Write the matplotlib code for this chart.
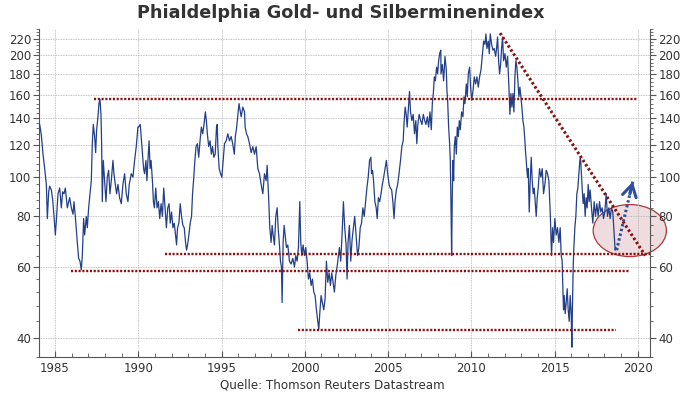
#!/usr/bin/env python

import matplotlib
matplotlib.use('Agg')
import matplotlib.pyplot as plt
from matplotlib.patches import Ellipse
from matplotlib.ticker import FixedLocator, NullFormatter

# index values (decimal year, index level)
years_84_89 = [1984.08, 1984.18, 1984.28, 1984.38, 1984.48, 1984.54, 1984.62, 1984.68, 1984.78, 1984.86,
               1984.94, 1985.02, 1985.08, 1985.18, 1985.28, 1985.38, 1985.46, 1985.54, 1985.62, 1985.74,
               1985.88, 1985.98, 1986.08, 1986.14, 1986.22, 1986.28, 1986.34, 1986.42, 1986.50, 1986.58,
               1986.64, 1986.72, 1986.78, 1986.88, 1986.94, 1987.02, 1987.10, 1987.18, 1987.24, 1987.30,
               1987.38, 1987.44, 1987.50, 1987.58, 1987.64, 1987.70, 1987.76, 1987.80, 1987.84, 1987.90,
               1987.98, 1988.06, 1988.14, 1988.22, 1988.30, 1988.38, 1988.48, 1988.54, 1988.62, 1988.70,
               1988.78, 1988.88, 1988.98, 1989.08, 1989.18, 1989.28, 1989.38, 1989.46, 1989.58, 1989.68,
               1989.78, 1989.88, 1989.98]
values_84_89 = [135, 127, 114, 105, 96, 79, 92, 95, 93, 88,
                80, 72, 78, 91, 94, 84, 92, 91, 94, 84,
                89, 84, 81, 87, 80, 74, 69, 63, 62, 59,
                64, 79, 72, 80, 75, 84, 91, 98, 121, 135,
                126, 115, 131, 141, 152, 156, 143, 121, 87, 110,
                98, 87, 100, 104, 91, 98, 110, 102, 96, 91,
                96, 89, 86, 96, 102, 91, 87, 96, 102, 100,
                110, 119, 133]

years_90_95 = [1990.02, 1990.12, 1990.22, 1990.32, 1990.38, 1990.46, 1990.52, 1990.58, 1990.65, 1990.71,
               1990.77, 1990.85, 1990.91, 1990.97, 1991.05, 1991.13, 1991.21, 1991.29, 1991.37, 1991.45,
               1991.53, 1991.61, 1991.69, 1991.77, 1991.85, 1991.92, 1992.00, 1992.08, 1992.16, 1992.24,
               1992.30, 1992.36, 1992.44, 1992.52, 1992.60, 1992.68, 1992.76, 1992.84, 1992.90, 1992.96,
               1993.04, 1993.12, 1993.20, 1993.26, 1993.32, 1993.40, 1993.47, 1993.55, 1993.63, 1993.71,
               1993.79, 1993.87, 1993.95, 1994.03, 1994.09, 1994.15, 1994.23, 1994.31, 1994.39, 1994.46,
               1994.54, 1994.62, 1994.70, 1994.74, 1994.78, 1994.86, 1994.94, 1995.02, 1995.10, 1995.18,
               1995.28, 1995.38, 1995.48, 1995.58, 1995.67, 1995.77, 1995.83, 1995.91, 1995.97, 1996.05,
               1996.13]
values_90_95 = [133, 135, 119, 105, 102, 110, 98, 110, 123, 105,
                110, 98, 87, 84, 94, 84, 87, 79, 86, 80,
                94, 84, 75, 84, 86, 77, 82, 75, 77, 72,
                68, 75, 77, 86, 80, 76, 75, 69, 66, 68,
                72, 77, 80, 91, 98, 110, 119, 121, 112, 123,
                133, 128, 135, 145, 138, 128, 119, 123, 114, 119,
                112, 114, 133, 135, 119, 105, 102, 100, 110, 121,
                123, 128, 123, 126, 121, 114, 126, 133, 141, 152,
                145]

years_96_01 = [1996.18, 1996.28, 1996.38, 1996.42, 1996.50, 1996.58, 1996.68, 1996.78, 1996.88, 1996.98,
               1997.08, 1997.18, 1997.28, 1997.38, 1997.48, 1997.58, 1997.68, 1997.74, 1997.82, 1997.90,
               1997.98, 1998.04, 1998.10, 1998.18, 1998.26, 1998.34, 1998.40, 1998.48, 1998.54, 1998.60,
               1998.64, 1998.70, 1998.76, 1998.82, 1998.90, 1998.98, 1999.08, 1999.18, 1999.28, 1999.38,
               1999.46, 1999.54, 1999.62, 1999.70, 1999.76, 1999.82, 1999.90, 1999.98, 2000.06, 2000.14,
               2000.22, 2000.30, 2000.38, 2000.46, 2000.54, 2000.62, 2000.70, 2000.78, 2000.84, 2000.90,
               2000.98, 2001.06, 2001.14, 2001.22, 2001.30, 2001.38, 2001.46, 2001.54, 2001.62, 2001.70,
               2001.78, 2001.86, 2001.94, 2002.02]
values_96_01 = [141, 149, 145, 133, 128, 126, 121, 115, 119, 114,
                119, 105, 102, 96, 91, 102, 98, 107, 91, 75,
                69, 76, 72, 68, 80, 84, 75, 68, 62, 60,
                49, 69, 76, 72, 67, 68, 62, 61, 63, 60,
                64, 62, 67, 87, 69, 64, 68, 64, 67, 62,
                56, 58, 54, 56, 52, 51, 47, 44, 42, 46,
                51, 49, 47, 50, 62, 55, 58, 54, 58, 55,
                52, 57, 60, 64]

years_02_07 = [2002.08, 2002.16, 2002.24, 2002.32, 2002.40, 2002.48, 2002.54, 2002.60, 2002.68, 2002.76,
               2002.84, 2002.92, 2003.00, 2003.08, 2003.17, 2003.25, 2003.33, 2003.41, 2003.49, 2003.57,
               2003.65, 2003.73, 2003.81, 2003.89, 2003.97, 2004.01, 2004.07, 2004.13, 2004.21, 2004.29,
               2004.35, 2004.42, 2004.50, 2004.58, 2004.66, 2004.74, 2004.82, 2004.90, 2004.98, 2005.06,
               2005.14, 2005.22, 2005.30, 2005.36, 2005.42, 2005.50, 2005.58, 2005.66, 2005.75, 2005.83,
               2005.91, 2005.97, 2006.03, 2006.09, 2006.15, 2006.23, 2006.29, 2006.35, 2006.43, 2006.51,
               2006.59, 2006.67, 2006.73, 2006.79, 2006.87, 2006.96, 2007.04, 2007.12, 2007.20, 2007.28,
               2007.36, 2007.44, 2007.52, 2007.60, 2007.66, 2007.72, 2007.78, 2007.84, 2007.92, 2007.98,
               2008.04, 2008.10, 2008.17]
values_02_07 = [67, 62, 72, 87, 75, 68, 56, 69, 76, 62,
                70, 75, 80, 72, 64, 67, 75, 77, 84, 80,
                87, 94, 100, 110, 112, 102, 104, 98, 87, 84,
                79, 89, 87, 91, 96, 100, 105, 110, 102, 96,
                94, 93, 86, 79, 87, 93, 96, 102, 110, 119,
                123, 138, 149, 143, 133, 149, 163, 145, 138, 143,
                128, 138, 121, 135, 143, 138, 135, 143, 138, 135,
                141, 133, 145, 131, 152, 161, 177, 173, 187, 180,
                194, 202, 206]

years_08_13 = [2008.18, 2008.26, 2008.34, 2008.42, 2008.50, 2008.54, 2008.58, 2008.64, 2008.70, 2008.74,
               2008.78, 2008.82, 2008.86, 2008.90, 2008.94, 2008.98, 2009.04, 2009.10, 2009.16, 2009.22,
               2009.28, 2009.34, 2009.42, 2009.50, 2009.56, 2009.62, 2009.70, 2009.76, 2009.82, 2009.90,
               2009.96, 2010.02, 2010.10, 2010.18, 2010.26, 2010.34, 2010.42, 2010.50, 2010.58, 2010.66,
               2010.74, 2010.82, 2010.88, 2010.94, 2011.02, 2011.08, 2011.14, 2011.22, 2011.30, 2011.38,
               2011.46, 2011.52, 2011.58, 2011.64, 2011.70, 2011.76, 2011.82, 2011.88, 2011.94, 2012.02,
               2012.10, 2012.18, 2012.26, 2012.32, 2012.38, 2012.44, 2012.50, 2012.56, 2012.62, 2012.68,
               2012.74, 2012.80, 2012.86, 2012.92, 2012.98, 2013.04, 2013.10, 2013.16, 2013.22, 2013.26,
               2013.30, 2013.34, 2013.38, 2013.42, 2013.48, 2013.54, 2013.60, 2013.66, 2013.72, 2013.78,
               2013.84, 2013.90, 2013.96, 2014.02, 2014.10, 2014.18]
values_08_13 = [180, 190, 173, 199, 184, 163, 155, 133, 121, 110,
                86, 64, 91, 110, 98, 119, 126, 114, 133, 126,
                138, 131, 145, 141, 158, 152, 170, 158, 180, 187,
                167, 155, 163, 177, 170, 177, 167, 177, 184, 199,
                217, 213, 226, 208, 217, 202, 226, 213, 206, 208,
                199, 208, 222, 194, 180, 190, 208, 222, 194, 202,
                187, 199, 167, 143, 161, 149, 161, 145, 177, 194,
                187, 173, 158, 167, 158, 149, 138, 133, 123, 115,
                110, 104, 100, 105, 82, 98, 112, 98, 91, 94,
                87, 80, 89, 94, 105, 100]

years_14_18 = [2014.26, 2014.34, 2014.42, 2014.50, 2014.58, 2014.66, 2014.74, 2014.78, 2014.82, 2014.88,
               2014.94, 2015.02, 2015.10, 2015.18, 2015.26, 2015.34, 2015.40, 2015.46, 2015.50, 2015.54,
               2015.58, 2015.64, 2015.70, 2015.76, 2015.82, 2015.88, 2015.94, 2016.00, 2016.04, 2016.08,
               2016.12, 2016.16, 2016.22, 2016.28, 2016.34, 2016.40, 2016.46, 2016.52, 2016.56, 2016.60,
               2016.66, 2016.72, 2016.78, 2016.84, 2016.90, 2016.96, 2017.02, 2017.08, 2017.14, 2017.22,
               2017.30, 2017.38, 2017.46, 2017.54, 2017.62, 2017.70, 2017.78, 2017.86, 2017.94, 2018.02,
               2018.10, 2018.18, 2018.26, 2018.34, 2018.42, 2018.50, 2018.56, 2018.60, 2018.64, 2018.68]
values_14_18 = [105, 91, 96, 104, 102, 98, 82, 72, 64, 75,
                69, 79, 72, 75, 69, 75, 64, 62, 53, 47,
                51, 46, 49, 53, 47, 44, 51, 46, 38, 49,
                60, 67, 75, 80, 91, 94, 102, 110, 112, 104,
                94, 86, 91, 80, 89, 84, 96, 87, 93, 84,
                77, 87, 80, 86, 80, 87, 82, 84, 79, 82,
                91, 80, 84, 79, 84, 82, 75, 70, 66, 67]

# support / resistance lines: (start year, end year, level)
support_lines = [(1987.35, 2019.95, 156),
                 (1991.6, 2020.75, 64.5),
                 (1985.95, 2019.5, 58.7),
                 (1999.6, 2018.7, 41.9)]
trend_x = [2011.73, 2020.45]
trend_y = [227, 64]
arrow_x = [2018.73, 2019.7]
arrow_y = [66, 97.5]
circle_center = (2019.52, 73.8)

y_major = [40, 60, 80, 100, 120, 140, 160, 180, 200, 220]
y_minor = [v for v in range(36, 233, 4) if v not in y_major]
x_major = [1985, 1990, 1995, 2000, 2005, 2010, 2015, 2020]
x_minor = list(range(1985, 2021))

TEXT = '#333333'
RED = '#8c1010'
BLUE = '#223f88'
ARROW = '#2d4f9e'


def main():
    fig = plt.figure(figsize=(6.82, 3.94), dpi=100)
    ax = fig.add_axes([0.0577, 0.0947, 0.8953, 0.8309])

    years = years_84_89 + years_90_95 + years_96_01 + years_02_07 + years_08_13 + years_14_18
    values = values_84_89 + values_90_95 + values_96_01 + values_02_07 + values_08_13 + values_14_18
    ax.plot(years, values, color=BLUE, lw=0.9, zorder=4)

    for x0, x1, lvl in support_lines:
        ax.plot([x0, x1], [lvl, lvl], color=RED, lw=1.7, ls=(0, (0.9, 0.7)), zorder=5)
    ax.plot(trend_x, trend_y, color=RED, lw=2.2, ls=(0, (0.8, 0.8)), zorder=5)

    ax.set_yscale('log')
    ax.set_ylim(36, 232)
    ax.set_xlim(1984.06, 2020.73)

    # circle marking the breakout zone, under the axis labels and grid
    cx, cy = ax.transAxes.inverted().transform(ax.transData.transform(circle_center))
    ell = Ellipse((cx, cy), 0.12, 0.159, transform=ax.transAxes, clip_on=False,
                  facecolor='#efdcde', edgecolor='#a83a3a', lw=0.9, zorder=1.2)
    ax.add_patch(ell)

    # dotted blue arrow with a solid open head
    ax.plot(arrow_x, arrow_y, color=ARROW, lw=2.2, ls=(0, (0.8, 0.8)), zorder=6)
    ax.annotate('', xy=(arrow_x[1], arrow_y[1]), xytext=(-2.1, -8.8), textcoords='offset points',
                arrowprops=dict(arrowstyle='->,head_length=0.85,head_width=0.5',
                                color=ARROW, lw=2.2, shrinkA=0, shrinkB=0), zorder=6)

    ax.yaxis.set_major_locator(FixedLocator(y_major))
    ax.yaxis.set_minor_locator(FixedLocator(y_minor))
    ax.set_yticks(y_major, [str(v) for v in y_major])
    ax.yaxis.set_minor_formatter(NullFormatter())
    ax.set_xticks(x_major, [str(v) for v in x_major])
    ax.set_xticks(x_minor, minor=True)

    ax.tick_params(axis='y', which='both', direction='out', left=True, right=True,
                   labelleft=True, labelright=True, colors='#555555', labelcolor=TEXT,
                   labelsize=8.5, pad=2)
    ax.tick_params(axis='y', which='major', length=4)
    ax.tick_params(axis='y', which='minor', length=2)
    ax.tick_params(axis='x', which='both', direction='in', colors='#555555',
                   labelcolor=TEXT, labelsize=8.5, pad=4)
    ax.tick_params(axis='x', which='major', length=4)
    ax.tick_params(axis='x', which='minor', length=3)

    ax.grid(True, which='major', color='#b0b0b0', ls=(0, (1, 1)), lw=0.6)
    ax.spines['top'].set_visible(False)
    for s in ['left', 'right', 'bottom']:
        ax.spines[s].set_color('#555555')
        ax.spines[s].set_linewidth(0.8)

    fig.text(0.5, 0.968, 'Phialdelphia Gold- und Silberminenindex', ha='center', va='center',
             fontsize=12.7, fontweight='bold', color=TEXT)
    fig.text(0.487, 0.023, 'Quelle: Thomson Reuters Datastream', ha='center', va='center',
             fontsize=8.6, color=TEXT)

    fig.savefig('out.png', dpi=100)


if __name__ == '__main__':
    main()
